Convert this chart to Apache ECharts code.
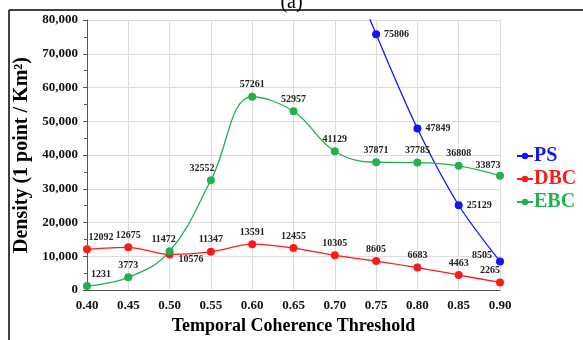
<!DOCTYPE html>
<html>
<head>
<meta charset="utf-8">
<script src="https://cdn.jsdelivr.net/npm/echarts@6/dist/echarts.min.js"></script>
<style>
  html, body { margin: 0; padding: 0; background: #fff; }
  #main { width: 583px; height: 340px; }
</style>
</head>
<body>
<div id="main"></div>
<script>
const thresholds = ['0.40', '0.45', '0.50', '0.55', '0.60', '0.65', '0.70', '0.75', '0.80', '0.85', '0.90'];
// PS goes off the top of the chart before 0.75; 0.70 value is an estimate
const ps_values = [null, null, null, null, null, null, 106000, 75806, 47849, 25129, 8505];
const dbc_values = [12092, 12675, 10576, 11347, 13591, 12455, 10305, 8605, 6683, 4463, 2265];
const ebc_values = [1231, 3773, 11472, 32552, 57261, 52957, 41129, 37871, 37785, 36808, 33873];

const FONT = '"Liberation Serif", "Times New Roman", serif';
const BLUE = '#1414ff', RED = '#ff1a1a', GREEN = '#22b14c';

// label nudges per point (px)
const dbc_offsets = [[14, 0], [0, 0], null, [0, 0], [0, 0], [0, 0], [0, 0], [0, 0], [0, 0], [0, 0], [-10, 0]];
const ebc_offsets = [[14, 0], [0, 0], [-6, 0], [-9, 0], [0, 0], [0, 0], [0, 0], [0, 0], [0, 0], [0, 0], [-12, 2]];

function withLabels(values, offsets) {
    return values.map((v, i) => {
        if (v == null) return null;
        if (offsets[i] == null) return { value: v, label: { position: 'right', offset: [2, 5] } };
        return { value: v, label: { offset: offsets[i] } };
    });
}

const labelStyle = {
    show: true,
    position: 'top',
    distance: 3,
    color: '#222',
    fontFamily: FONT,
    fontWeight: 'bold',
    fontSize: 10
};

const option = {
    animation: false,
    title: {
        text: '(a)',
        left: 'center',
        top: -12,
        textStyle: { fontFamily: FONT, fontSize: 20, fontWeight: 'normal', color: '#000' }
    },
    graphic: [
        { type: 'line', shape: { x1: 9, y1: 10, x2: 583, y2: 10 }, style: { stroke: '#000', lineWidth: 1.5 } },
        { type: 'line', shape: { x1: 9, y1: 10, x2: 9, y2: 340 }, style: { stroke: '#000', lineWidth: 1.5 } }
    ],
    legend: {
        orient: 'vertical',
        left: 511,
        top: 141,
        itemGap: 3,
        itemWidth: 16,
        itemHeight: 8,
        data: [
            { name: 'PS', textStyle: { color: BLUE } },
            { name: 'DBC', textStyle: { color: RED } },
            { name: 'EBC', textStyle: { color: GREEN } }
        ],
        textStyle: { fontFamily: FONT, fontWeight: 'bold', fontSize: 20, padding: [0, 0, 0, -4] }
    },
    grid: { left: 87, right: 83, top: 20, bottom: 49 },
    xAxis: {
        type: 'category',
        data: thresholds,
        boundaryGap: false,
        name: 'Temporal Coherence Threshold',
        nameLocation: 'middle',
        nameGap: 26,
        nameTextStyle: { fontFamily: FONT, fontWeight: 'bold', fontSize: 18, color: '#000' },
        axisLine: { lineStyle: { color: '#555' } },
        axisTick: { show: false },
        axisLabel: { fontFamily: FONT, fontWeight: 'bold', fontSize: 13, color: '#111', margin: 9 },
        splitLine: { show: true, lineStyle: { color: '#dcdcdc' } }
    },
    yAxis: {
        type: 'value',
        min: 0,
        max: 80000,
        interval: 10000,
        name: 'Density (1 point / Km²)',
        nameLocation: 'middle',
        nameGap: 45,
        nameTextStyle: { fontFamily: FONT, fontWeight: 'bold', fontSize: 20, color: '#000' },
        axisLine: { show: true, lineStyle: { color: '#555' } },
        axisTick: { show: true, length: 4, lineStyle: { color: '#555' } },
        minorTick: { show: true, splitNumber: 2, length: 3, lineStyle: { color: '#555' } },
        axisLabel: {
            fontFamily: FONT, fontWeight: 'bold', fontSize: 13, color: '#111', margin: 9,
            formatter: v => v.toLocaleString('en-US')
        },
        splitLine: { show: true, lineStyle: { color: '#dcdcdc' } }
    },
    series: [
        {
            name: 'PS',
            type: 'line',
            smooth: 0.3,
            clip: true,
            color: BLUE,
            symbol: 'circle',
            symbolSize: 8,
            lineStyle: { width: 1.3 },
            label: Object.assign({}, labelStyle, { position: 'right', distance: 4 }),
            data: ps_values.map((v, i) => {
                if (v == null) return null;
                if (i === 6) return { value: v, symbol: 'none', label: { show: false } };
                if (i === 10) return { value: v, label: { position: 'left', offset: [0, -6] } };
                return { value: v };
            })
        },
        {
            name: 'DBC',
            type: 'line',
            smooth: 0.3,
            color: RED,
            symbol: 'circle',
            symbolSize: 8,
            lineStyle: { width: 1.3 },
            label: labelStyle,
            data: withLabels(dbc_values, dbc_offsets)
        },
        {
            name: 'EBC',
            type: 'line',
            smooth: 0.4,
            color: GREEN,
            symbol: 'circle',
            symbolSize: 8,
            lineStyle: { width: 1.3 },
            label: labelStyle,
            data: withLabels(ebc_values, ebc_offsets)
        }
    ]
};

const chart = echarts.init(document.getElementById('main'));
chart.setOption(option);
</script>
</body>
</html>
